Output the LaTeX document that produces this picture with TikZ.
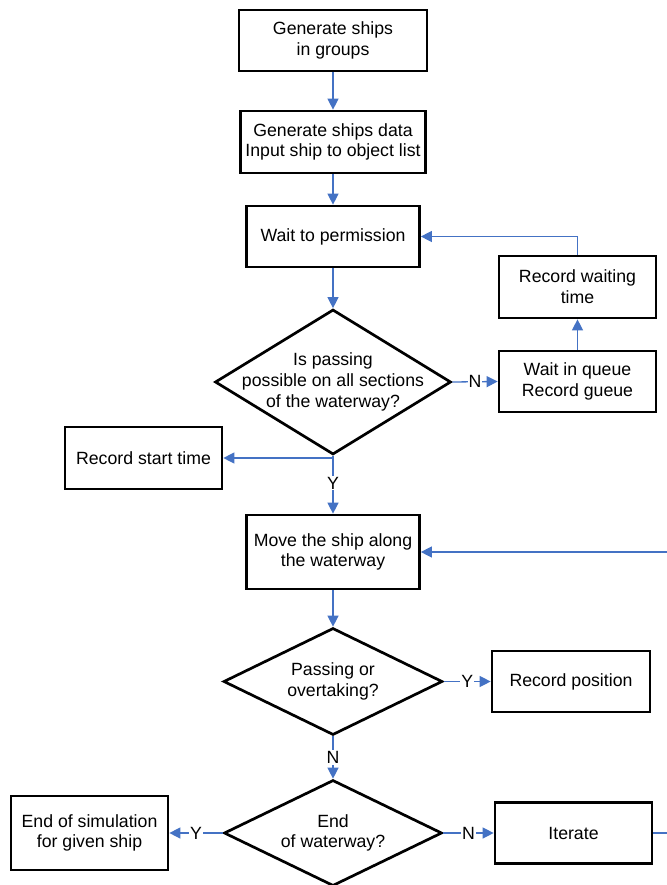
\documentclass[tikz,border=0pt]{standalone}
\usepackage{fontspec}
\setmainfont{Liberation Sans}
\usetikzlibrary{arrows.meta,shapes.geometric}
\definecolor{conncol}{RGB}{68,114,196}
\begin{document}
\begin{tikzpicture}[x=1pt,y=-1pt,
  every node/.style={font=\fontsize{17.7}{20.7}\selectfont},
  box/.style={draw,line width=2.7pt,rectangle,align=center,inner sep=0pt},
  dia/.style={draw,line width=2.7pt,diamond,inner sep=0pt},
  dtext/.style={align=center,inner sep=0pt},
  conn/.style={draw=conncol,line width=1.3pt,-{Triangle[length=11pt,width=11pt]}},
  plain/.style={draw=conncol,line width=1.3pt},
  lbl/.style={fill=white,inner sep=1pt}]
\useasboundingbox (0,0) rectangle (666,885);

\node[box,minimum width=188pt,minimum height=61pt] (b1) at (333,40.5) {Generate ships\\in groups};
\node[box,minimum width=185pt,minimum height=62pt] (b2) at (333,142) {Generate ships data\\Input ship to object list};
\node[box,minimum width=173pt,minimum height=61pt] (b3) at (333,236.5) {Wait to permission};
\node[box,minimum width=157pt,minimum height=62pt] (rw) at (577.5,287) {Record waiting\\time};
\node[box,minimum width=157pt,minimum height=61pt] (wq) at (577.5,381.5) {Wait in queue\\Record gueue};
\node[dia,minimum width=236pt,minimum height=145pt] (d1) at (333,382) {};
\node[dtext] (d1t) at (d1.center) {Is passing\\possible on all sections\\of the waterway?};
\node[box,minimum width=157pt,minimum height=62pt] (rs) at (143.5,458) {Record start time};
\node[box,minimum width=173pt,minimum height=74pt] (mv) at (333,552) {Move the ship along\\the waterway};
\node[dia,minimum width=219pt,minimum height=107pt] (d2) at (333,681.5) {};
\node[dtext] (d2t) at (d2.center) {Passing or\\overtaking?};
\node[box,minimum width=158pt,minimum height=61pt] (rp) at (571,681.5) {Record position};
\node[dia,minimum width=218pt,minimum height=106pt] (d3) at (333,833) {};
\node[dtext] (d3t) at (d3.center) {End\\of waterway?};
\node[box,minimum width=157pt,minimum height=74pt] (es) at (89.5,833) {End of simulation\\for given ship};
\node[box,minimum width=157pt,minimum height=61pt] (it) at (573.5,833) {Iterate};

\coordinate (j1) at (333,458);
\coordinate (r1) at (700,833);
\coordinate (r2) at (700,552);

\draw[conn] (b1.south) -- (b2.north);
\draw[conn] (b2.south) -- (b3.north);
\draw[conn] (b3.south) -- (d1.north);
\draw[conn] (d1.east) -- node[lbl] (lN1) {N} (wq.west);
\draw[conn] (wq.north) -- (rw.south);
\draw[conn] (rw.north) -- (rw.north |- b3.east) -- (b3.east);
\draw[plain] (d1.south) -- (j1);
\draw[conn] (j1) -- (rs.east);
\draw[conn] (j1) -- node[lbl,pos=0.45] (lY1) {Y} (mv.north);
\draw[conn] (mv.south) -- (d2.north);
\draw[conn] (d2.east) -- node[lbl] (lY2) {Y} (rp.west);
\draw[conn] (d2.south) -- node[lbl] (lN2) {N} (d3.north);
\draw[conn] (d3.west) -- node[lbl] (lY3) {Y} (es.east);
\draw[conn] (d3.east) -- node[lbl] (lN3) {N} (it.west);
\draw[conn] (it.east) -- (r1) -- (r2) -- (mv.east);
\end{tikzpicture}
\end{document}
